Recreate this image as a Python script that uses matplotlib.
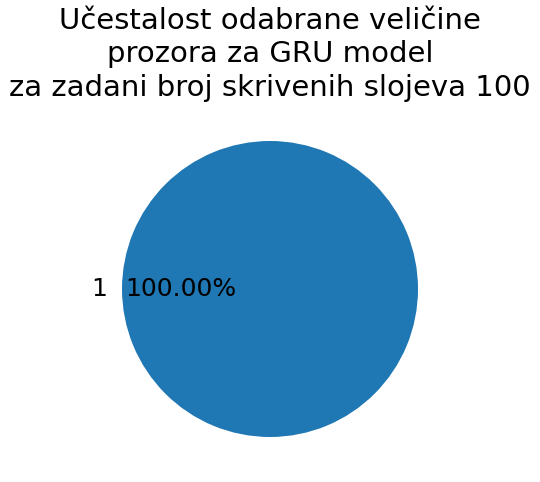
import matplotlib
matplotlib.use("Agg")
import matplotlib.pyplot as plt

# Podaci
labels = ["1"]
counts = [1]

fig = plt.figure(figsize=(5.4, 4.82), dpi=100)
ax = fig.add_axes([85/540, 8/482, 370/540, 370/482])

ax.pie(counts, labels=labels, autopct='%.2f%%',
       textprops={'fontsize': 18})
ax.set_aspect('equal')

fig.suptitle('Učestalost odabrane veličine\nprozora za GRU model\nza zadani broj skrivenih slojeva 100',
             fontsize=21, y=0.986, va='top', linespacing=1.25)

fig.savefig('out.png', dpi=100)
